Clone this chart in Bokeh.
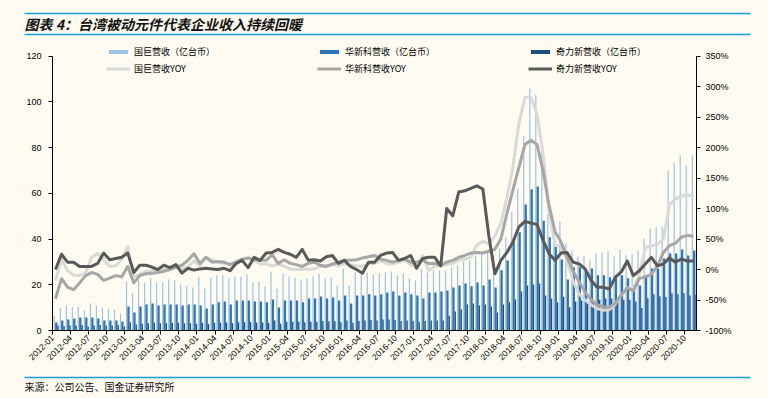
import math
from bokeh.plotting import figure
from bokeh.models import (Range1d, LinearAxis, FixedTicker, Legend, LegendItem,
                          ColumnDataSource, PrintfTickFormatter)
from bokeh.transform import dodge
from bokeh.embed import file_html
from bokeh.resources import INLINE
from bokeh.core.properties import value

# ---------------- data (monthly, 2012-01 .. 2020-11) ----------------
guoju_rev = [
    6.5, 9.8, 10.9, 10.2, 10.5, 8.8, 11.8, 10.9, 10.1, 9.6, 9.2, 7.4,
    21.4, 16.2, 22.3, 21.0, 22.8, 21.0, 21.0, 22.3, 21.9, 20.1, 19.7, 18.8,
    23.6, 18.4, 23.2, 24.1, 24.1, 22.8, 23.6, 23.6, 24.5, 21.0, 21.4, 19.3,
    25.8, 18.4, 24.9, 23.6, 23.2, 22.3, 22.8, 23.6, 24.9, 22.8, 23.2, 19.7,
    27.1, 19.7, 25.4, 24.5, 25.4, 24.5, 24.9, 25.4, 25.8, 24.1, 24.9, 22.8,
    21.9, 27.0, 25.4, 26.3, 26.3, 26.3, 27.6, 28.4, 30.2, 30.6, 32.8, 33.7,
    35.0, 33.0, 35.9, 40.7, 52.0, 62.0, 85.0, 106.0, 103.0, 80.0, 51.0, 45.5,
    47.5, 38.0, 35.0, 32.4, 32.8, 30.6, 33.7, 34.1, 34.6, 32.4, 35.4, 32.8,
    33.2, 35.0, 40.2, 44.6, 45.1, 45.5, 70.0, 73.2, 76.6, 72.2, 76.6]
huaxin_rev = [
    3.5, 4.4, 4.8, 5.3, 5.7, 5.7, 5.7, 5.3, 4.4, 4.4, 4.4, 3.9,
    10.5, 7.9, 10.5, 11.4, 11.8, 10.9, 11.4, 11.4, 11.4, 10.9, 11.4, 11.4,
    10.9, 9.6, 11.4, 12.3, 12.7, 11.4, 13.1, 13.1, 13.1, 12.7, 12.7, 12.3,
    13.6, 10.1, 13.1, 13.1, 13.1, 12.3, 14.0, 14.0, 14.9, 14.0, 14.4, 13.1,
    15.3, 11.8, 15.3, 15.3, 15.8, 15.3, 15.8, 16.6, 17.1, 15.3, 16.6, 15.8,
    15.3, 14.0, 16.6, 16.6, 17.1, 17.5, 18.8, 19.7, 20.6, 19.3, 21.0, 19.7,
    22.3, 18.8, 26.3, 30.6, 39.4, 43.0, 55.1, 61.7, 63.0, 48.0, 40.8, 36.5,
    31.0, 22.3, 27.7, 27.7, 26.3, 27.1, 24.1, 24.1, 23.3, 24.1, 24.1, 22.8,
    19.0, 19.7, 24.1, 27.1, 27.1, 31.5, 33.7, 33.7, 35.4, 32.8, 35.0]
qilixin_rev = [
    2.2, 2.0, 2.2, 2.2, 2.4, 1.8, 2.2, 2.4, 2.2, 2.2, 2.4, 1.8,
    3.6, 2.6, 3.0, 3.2, 3.4, 3.2, 3.2, 3.4, 3.4, 3.2, 3.2, 3.0,
    3.4, 2.8, 3.4, 3.5, 3.5, 3.2, 3.6, 3.6, 3.6, 3.5, 3.5, 3.4,
    4.4, 3.0, 3.8, 3.8, 3.8, 3.6, 3.8, 3.8, 4.2, 4.0, 4.0, 3.6,
    4.4, 3.4, 4.2, 4.4, 4.6, 4.4, 4.8, 4.8, 4.6, 4.2, 4.4, 4.2,
    3.8, 4.2, 4.4, 4.4, 4.4, 6.5, 8.3, 9.2, 11.4, 11.8, 10.9, 11.4,
    10.5, 7.9, 11.4, 12.3, 13.6, 17.1, 19.7, 20.1, 20.6, 15.3, 14.0, 12.3,
    14.6, 10.2, 12.7, 13.1, 11.9, 13.1, 13.4, 14.0, 14.0, 13.1, 13.4, 13.4,
    12.7, 9.8, 14.1, 15.8, 15.0, 14.6, 16.3, 15.8, 16.3, 15.3, 15.6]
guoju_yoy = [
    -18, 16, -2, -9, -10, -5, 20, 26, 16, 5, 6, 16,
    38, -12, -8, -3, -2, 0, 0, 3, 4, 1, 4, 14,
    6, 20, 16, 12, 10, 9, 9, 15, 19, 15, 9, 9,
    6, 9, 5, 1, 0, 0, 1, 1, 5, 6, 8, 6,
    10, 8, 6, 5, 9, 10, 14, 10, 9, 12, 15, 8,
    4, 23, -2, 6, 6, 8, 10, 15, 17, 20, 40, 46,
    42, 55, 76, 118, 168, 240, 282, 282, 255, 190, 95, 40,
    37, 15, -20, -40, -50, -58, -64, -67, -66, -57, -42, -30,
    -31, -8, 36, 39, 41, 50, 106, 116, 120, 123, 118]
huaxin_yoy = [
    -48, -15, -29, -33, -22, -10, -5, -8, -18, -14, -10, -12,
    5, -22, -10, -7, -6, -5, -3, 0, 4, 7, 15, 26,
    10, 20, 12, 13, 12, 8, 12, 17, 19, 16, 15, 15,
    24, 10, 16, 10, 8, 5, 10, 12, 7, 5, 9, 12,
    15, 15, 16, 19, 21, 23, 17, 15, 12, 15, 17.5, 12,
    12, 15, 10, 10, 6.5, 12, 15, 20, 23, 27, 28, 27,
    30, 33, 50, 92, 130, 168, 205, 212, 205, 162, 105, 62,
    45, 20, -3, -20, -37, -50, -58, -61, -62, -55, -42, -30,
    -35, -15, -12, -8, 6, 28, 39, 43, 53, 56, 54]
qilixin_yoy = [
    0, 25, 12, 12, 5, 5, 5, 10, 27, 16, 18, 20,
    27, -5, 7, 7, 4, 0, 7, 3, 8, -6, 2, -1,
    1, 2, 1, 0, 2, -2, 10, 15, 3, 20, 15, 27,
    28, 33, 28, 25, 20, 33, 15, 16, 14, 21, 23, 10,
    15, 5, 0, -6, 12, 12, 23, 27, 28, 15, 18, 23,
    2, 18, 20, 20, 6, 100, 88, 127, 129, 133, 137, 132,
    55, -7, 15, 28, 45, 70, 79, 76, 74, 48, 26, 15,
    27, 28, 12, 9, 1, -18, -29, -29, -32, -13, -4, 14,
    -10, -2, 9, 20, 6, 9, 19, 12, 17, 14, 14]

tick_labels = [
    "2012-01", "2012-04", "2012-07", "2012-10", "2013-01", "2013-04", "2013-07", "2013-10",
    "2014-01", "2014-04", "2014-07", "2014-10", "2015-01", "2015-04", "2015-07", "2015-10",
    "2016-01", "2016-04", "2016-07", "2016-10", "2017-01", "2017-04", "2017-07", "2017-10",
    "2018-01", "2018-04", "2018-07", "2018-10", "2019-01", "2019-04", "2019-07", "2019-10",
    "2020-01", "2020-04", "2020-07", "2020-10"]
left_ticks = [0, 20, 40, 60, 80, 100, 120]
right_ticks = [-100, -50, 0, 50, 100, 150, 200, 250, 300, 350]

names = ["国巨营收（亿台币）", "华新科营收（亿台币）", "奇力新营收（亿台币）",
         "国巨营收YOY", "华新科营收YOY", "奇力新营收YOY"]

TITLE = "图表 4：台湾被动元件代表企业收入持续回暖"
SOURCE = "来源：公司公告、国金证券研究所"

N = len(guoju_rev)
for arr in (huaxin_rev, qilixin_rev, guoju_yoy, huaxin_yoy, qilixin_yoy):
    assert len(arr) == N

# ---------------- style ----------------
BG = "#FFFBF0"
RULE = "#1E9BD7"
C_GJ, C_HX, C_QL = "#9DC3E6", "#2E75B6", "#1F4E79"
L_GJ, L_HX, L_QL = "#D9D9D9", "#A6A6A6", "#595959"
CJK = "Noto Sans CJK SC"
LAT = "Liberation Sans"

W = 768
TOP_H, MAIN_H, BOT_H = 40, 328, 30
BORDER_TOP, BORDER_BOTTOM = 1, 38
FRAME_H = MAIN_H - BORDER_TOP - BORDER_BOTTOM   # frame height in px
AXIS_PX = 274.5                                  # px between 0 and 120 on the left axis
left_end = 120 * FRAME_H / AXIS_PX
right_end = -100 + 450 * FRAME_H / AXIS_PX

# ---------------- title strip ----------------
top = figure(width=W, height=TOP_H, x_range=Range1d(0, W), y_range=Range1d(0, TOP_H),
             x_axis_type=None, y_axis_type=None, output_backend="svg",
             toolbar_location=None, min_border=0, title=None,
             background_fill_color=BG, border_fill_color=BG, outline_line_color=None)
top.segment(x0=[24, 24], x1=[750, 750], y0=[27, 6], y1=[27, 6],
            line_color=RULE, line_width=1.5)
top.text(x=[24], y=[16.5], text=[TITLE], text_font=value(CJK), text_font_size="14px",
         text_font_style="bold italic", text_baseline="middle", text_color="#111111")

# ---------------- main chart ----------------
p = figure(width=W, height=MAIN_H, x_range=Range1d(0, N), y_range=Range1d(0, left_end),
           output_backend="svg", toolbar_location=None, title=None,
           min_border_left=52, min_border_right=72, min_border_top=BORDER_TOP,
           min_border_bottom=BORDER_BOTTOM,
           background_fill_color=BG, border_fill_color=BG, outline_line_color=None)
p.xgrid.visible = False
p.ygrid.visible = False
p.extra_y_ranges = {"yoy": Range1d(-100, right_end)}

src = ColumnDataSource(dict(x=[k + 0.5 for k in range(N)], gj=guoju_rev, hx=huaxin_rev,
                            ql=qilixin_rev, gjy=guoju_yoy, hxy=huaxin_yoy, qly=qilixin_yoy))

r_gj = p.vbar(x=dodge("x", -0.2, range=p.x_range), top="gj", width=0.2, source=src,
              fill_color=C_GJ, line_color=None)
r_hx = p.vbar(x=dodge("x", 0.12, range=p.x_range), top="hx", width=0.38, source=src,
              fill_color=C_HX, line_color=None)
r_ql = p.vbar(x=dodge("x", 0.42, range=p.x_range), top="ql", width=0.22, source=src,
              fill_color=C_QL, line_color=None)
r_gjy = p.line(x="x", y="gjy", source=src, y_range_name="yoy", line_color=L_GJ,
               line_width=3, line_join="round")
r_hxy = p.line(x="x", y="hxy", source=src, y_range_name="yoy", line_color=L_HX,
               line_width=3, line_join="round")
r_qly = p.line(x="x", y="qly", source=src, y_range_name="yoy", line_color=L_QL,
               line_width=3, line_join="round")

# left axis
yl = p.left[0]
yl.ticker = FixedTicker(ticks=left_ticks)
yl.bounds = (0, 120)
# right axis
yr = LinearAxis(y_range_name="yoy", ticker=FixedTicker(ticks=right_ticks),
                formatter=PrintfTickFormatter(format="%d%%"), bounds=(-100, 350))
p.add_layout(yr, "right")
# bottom axis
xa = p.below[0]
xa.ticker = FixedTicker(ticks=[3 * k for k in range(len(tick_labels))])
xa.major_label_overrides = {3 * k: lab for k, lab in enumerate(tick_labels)}
xa.major_label_orientation = math.pi / 4
xa.bounds = (0, N)

for ax in (yl, yr, xa):
    ax.axis_line_color = "#000000"
    ax.axis_line_width = 1
    ax.major_tick_line_color = "#000000"
    ax.major_tick_out = 4
    ax.major_tick_in = 0
    ax.minor_tick_out = 0
    ax.minor_tick_in = 0
    ax.major_label_text_font = LAT
    ax.major_label_text_color = "#000000"
    ax.major_label_text_font_size = "9px"
yl.major_label_standoff = 7
yr.major_label_standoff = 5
xa.major_label_standoff = 2
xa.major_label_text_font_size = "8.5px"

# legend: one box per entry, placed in frame pixels (from the frame's bottom-left)
legend_pos = [(54, 272), (265, 272), (476, 272), (54, 255), (265, 255), (476, 255)]
for (lx, ly), nm, r in zip(legend_pos, names, [r_gj, r_hx, r_ql, r_gjy, r_hxy, r_qly]):
    lg = Legend(items=[LegendItem(label=nm, renderers=[r])], location=(lx, ly),
                orientation="vertical", border_line_color=None, background_fill_alpha=0,
                padding=0, margin=0, spacing=0, glyph_width=24, glyph_height=5,
                label_height=12, label_standoff=4, label_text_font=CJK,
                label_text_font_size="9px", label_text_color="#000000",
                label_text_baseline="middle")
    p.add_layout(lg)

# ---------------- source strip ----------------
bot = figure(width=W, height=BOT_H, x_range=Range1d(0, W), y_range=Range1d(0, BOT_H),
             x_axis_type=None, y_axis_type=None, output_backend="svg",
             toolbar_location=None, min_border=0, title=None,
             background_fill_color=BG, border_fill_color=BG, outline_line_color=None)
bot.segment(x0=[24], x1=[750], y0=[21], y1=[21], line_color=RULE, line_width=1.5)
bot.text(x=[24], y=[12], text=[SOURCE], text_font=value(CJK), text_font_size="10px",
         text_baseline="middle", text_color="#111111")

html = file_html([top, p, bot], INLINE)
html = html.replace("</head>",
                    "<style>html,body{margin:0;padding:0;background:%s;}</style></head>" % BG, 1)
open("out.html", "w").write(html)
